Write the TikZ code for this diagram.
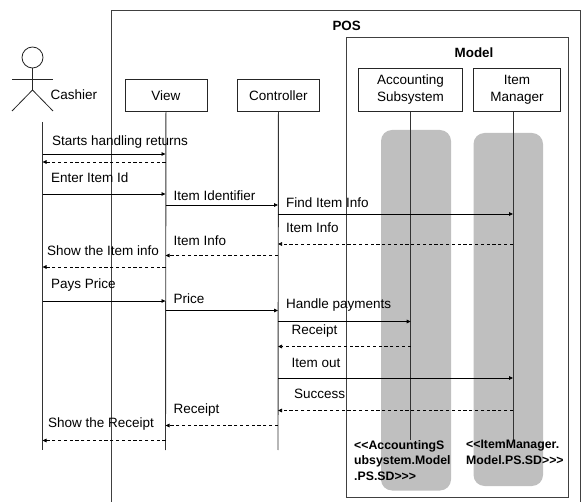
\documentclass[tikz,border=0pt]{standalone}
\usepackage{fontspec}
\setmainfont{Liberation Sans}
\usetikzlibrary{arrows.meta}
\tikzset{
  frameline/.style={draw=black!75,line width=1pt},
  headbox/.style={draw=black!85,line width=0.9pt,fill=white,align=center,inner sep=0pt,anchor=north west,font=\fontsize{13.5}{17}\selectfont},
  life/.style={draw=black!80,line width=0.9pt},
  graybar/.style={fill=black!25,draw=none,rounded corners=11pt},
  callmsg/.style={draw=black,line width=0.8pt,-{Triangle[length=4pt,width=3.6pt]}},
  retmsg/.style={draw=black,line width=0.7pt,dash pattern=on 3.2pt off 2.6pt,-{Triangle[length=4pt,width=3.6pt]}},
  lab/.style={anchor=west,inner sep=0pt,yshift=-1pt,font=\fontsize{13.5}{16}\selectfont},
  titlelab/.style={inner sep=0pt,font=\fontsize{13.4}{16}\selectfont\bfseries},
  stereo/.style={anchor=north west,inner sep=0pt,align=left,font=\fontsize{12.3}{15.5}\selectfont\bfseries},
  actorline/.style={draw=black!85,line width=0.8pt}
}
\begin{document}
\begin{tikzpicture}[x=1pt,y=-1pt]
\useasboundingbox (0,0) rectangle (581,502);
% gray bars
\fill[graybar] (381,130) rectangle (451,490.5);
\fill[graybar] (473.5,133) rectangle (543,486);
% frames
\draw[frameline] (111,502) -- (111,10.5) -- (580,10.5) -- (580,502);
\draw[frameline] (346,38) rectangle (568.7,497);
\node[titlelab] (pos) at (346.7,26) {POS};
\node[titlelab] (model) at (474,53) {Model};
% actor
\draw[actorline] (32.5,57.5) circle (10.5);
\draw[actorline] (32.5,68) -- (32.5,90);
\draw[actorline] (12,79) -- (53,79);
\draw[actorline] (12,111) -- (32.5,90) -- (53,111);
\node[lab] (cashier) at (50.5,94) {Cashier};
% heads
\node[headbox,minimum width=82pt,minimum height=32pt] (view) at (124.5,79) {View};
\node[headbox,minimum width=82pt,minimum height=32pt] (ctrl) at (237,79) {Controller};
\node[headbox,minimum width=104.5pt,minimum height=43pt] (acct) at (357.7,68) {Accounting\\Subsystem};
\node[headbox,minimum width=87pt,minimum height=43pt] (item) at (473,68) {Item\\Manager};
% lifeline ends
\coordinate (ct) at (42.5,122);
\coordinate (cb) at (42.5,450);
\coordinate (vb) at (165.5,450);
\coordinate (kb) at (278,450);
\coordinate (ab) at (410.7,440);
\coordinate (ib) at (513,440);
\draw[life] (ct) -- (cb);
\draw[life] (view.south) -- (vb);
\draw[life] (ctrl.south) -- (kb);
\draw[life] (ab |- acct.south) -- (ab);
\draw[life] (ib |- item.south) -- (ib);
% message rows
\foreach \n/\y in {a/154,b/162,c/194,d/205,e/214,f/244,g/255.5,h/267,i/301,j/310.5,k/321.5,l/346.5,m/378,n/410.5,o/425.5,p/440.5}
  \coordinate (r\n) at (0,\y);
\draw[callmsg] (cb |- ra) -- (vb |- ra);
\draw[retmsg]  (vb |- rb) -- (cb |- rb);
\draw[callmsg] (cb |- rc) -- (vb |- rc);
\draw[callmsg] (vb |- rd) -- (kb |- rd);
\draw[callmsg] (kb |- re) -- (ib |- re);
\draw[retmsg]  (ib |- rf) -- (kb |- rf);
\draw[retmsg]  (kb |- rg) -- (vb |- rg);
\draw[retmsg]  (vb |- rh) -- (cb |- rh);
\draw[callmsg] (cb |- ri) -- (vb |- ri);
\draw[callmsg] (vb |- rj) -- (kb |- rj);
\draw[callmsg] (kb |- rk) -- (ab |- rk);
\draw[retmsg]  (ab |- rl) -- (kb |- rl);
\draw[callmsg] (kb |- rm) -- (ib |- rm);
\draw[retmsg]  (ib |- rn) -- (kb |- rn);
\draw[retmsg]  (kb |- ro) -- (vb |- ro);
\draw[retmsg]  (vb |- rp) -- (cb |- rp);
% labels
\node[lab] (t1) at (52,141) {Starts handling returns};
\node[lab] (t2) at (51,177) {Enter Item Id};
\node[lab] (t3) at (173.5,195) {Item Identifier};
\node[lab] (t4) at (286,202) {Find Item Info};
\node[lab] (t5) at (286,227) {Item Info};
\node[lab] (t6) at (173.5,240) {Item Info};
\node[lab] (t7) at (47,250) {Show the Item info};
\node[lab] (t8) at (51,284) {Pays Price};
\node[lab] (t9) at (173.5,298) {Price};
\node[lab] (t10) at (286,304) {Handle payments};
\node[lab] (t11) at (291.5,330) {Receipt};
\node[lab] (t12) at (291.5,362) {Item out};
\node[lab] (t13) at (294,393) {Success};
\node[lab] (t14) at (173.5,409) {Receipt};
\node[lab] (t15) at (48,423) {Show the Receipt};
\node[stereo] (s1) at (354,440) {<{}<AccountingS\\ubsystem.Model\\.PS.SD>{}>{}>};
\node[stereo] (s2) at (466,440) {<{}<ItemManager.\\Model.PS.SD>{}>{}>};
\end{tikzpicture}
\end{document}
